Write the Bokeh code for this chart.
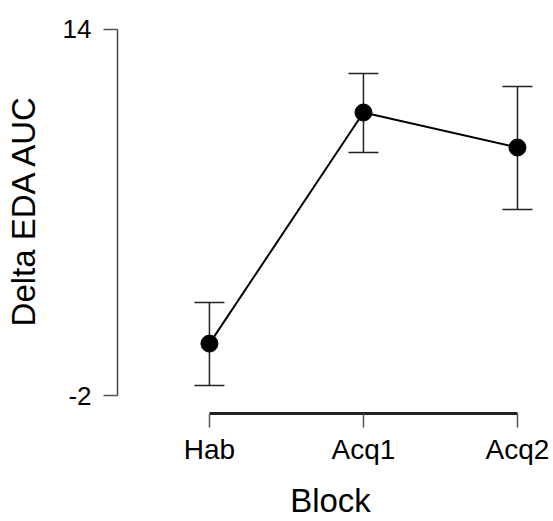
from bokeh.plotting import figure
from bokeh.models import LinearAxis, FixedTicker, Whisker, ColumnDataSource, Range1d, TeeHead
from bokeh.embed import file_html
from bokeh.resources import INLINE

blocks = ["Hab", "Acq1", "Acq2"]
means = [0.27, 10.37, 8.84]
upper = [2.07, 12.08, 11.51]
lower = [-1.56, 8.62, 6.13]
y_ticks = [-2, 14]
y_tick_labels = {-2: "-2", 14: "14"}

x = list(range(len(blocks)))
src = ColumnDataSource(dict(x=x, mean=means, upper=upper, lower=lower))

p = figure(width=553, height=521, output_backend="svg", toolbar_location=None,
           x_range=Range1d(-0.597, 2.169), y_range=Range1d(-2.785, 15.003),
           x_axis_type=None, y_axis_type=None,
           min_border_left=117, min_border_right=10, min_border_top=6, min_border_bottom=107)
p.outline_line_color = None
p.background_fill_color = "white"
p.border_fill_color = "white"

FONT = "Liberation Sans"

yaxis = LinearAxis(bounds=(-2, 14), ticker=FixedTicker(ticks=y_ticks),
                   major_label_overrides=y_tick_labels, axis_label="Delta EDA AUC")
yaxis.axis_line_color = "#444444"
yaxis.axis_line_width = 1.5
yaxis.major_tick_line_color = "#555555"
yaxis.major_tick_line_width = 1.5
yaxis.major_tick_out = 14
yaxis.major_tick_in = 0
yaxis.minor_tick_out = 0
yaxis.minor_tick_in = 0
yaxis.major_label_text_font = FONT
yaxis.major_label_text_font_size = "26px"
yaxis.major_label_text_color = "black"
yaxis.major_label_standoff = 12
yaxis.axis_label_text_font = FONT
yaxis.axis_label_text_font_size = "33px"
yaxis.axis_label_text_font_style = "normal"
yaxis.axis_label_text_color = "black"
yaxis.axis_label_standoff = 18
p.add_layout(yaxis, "left")

xaxis = LinearAxis(bounds=(0, 2), ticker=FixedTicker(ticks=x),
                   major_label_overrides={i: b for i, b in enumerate(blocks)}, axis_label="Block")
xaxis.axis_line_color = "#222222"
xaxis.axis_line_width = 3
xaxis.major_tick_line_color = "#555555"
xaxis.major_tick_line_width = 1.5
xaxis.major_tick_out = 14
xaxis.major_tick_in = 0
xaxis.minor_tick_out = 0
xaxis.minor_tick_in = 0
xaxis.major_label_text_font = FONT
xaxis.major_label_text_font_size = "28px"
xaxis.major_label_text_color = "black"
xaxis.major_label_standoff = 6
xaxis.axis_label_text_font = FONT
xaxis.axis_label_text_font_size = "33px"
xaxis.axis_label_text_font_style = "normal"
xaxis.axis_label_text_color = "black"
xaxis.axis_label_standoff = 14
p.add_layout(xaxis, "below")

whisker = Whisker(source=src, base="x", upper="upper", lower="lower",
                  line_color="#222222", line_width=1.5, level="underlay",
                  upper_head=TeeHead(size=30, line_color="#222222", line_width=1.5),
                  lower_head=TeeHead(size=30, line_color="#222222", line_width=1.5))
p.add_layout(whisker)

p.line("x", "mean", source=src, line_color="black", line_width=2)
p.scatter("x", "mean", source=src, size=17, color="black")

open("out.html", "w").write(file_html(p, INLINE))
